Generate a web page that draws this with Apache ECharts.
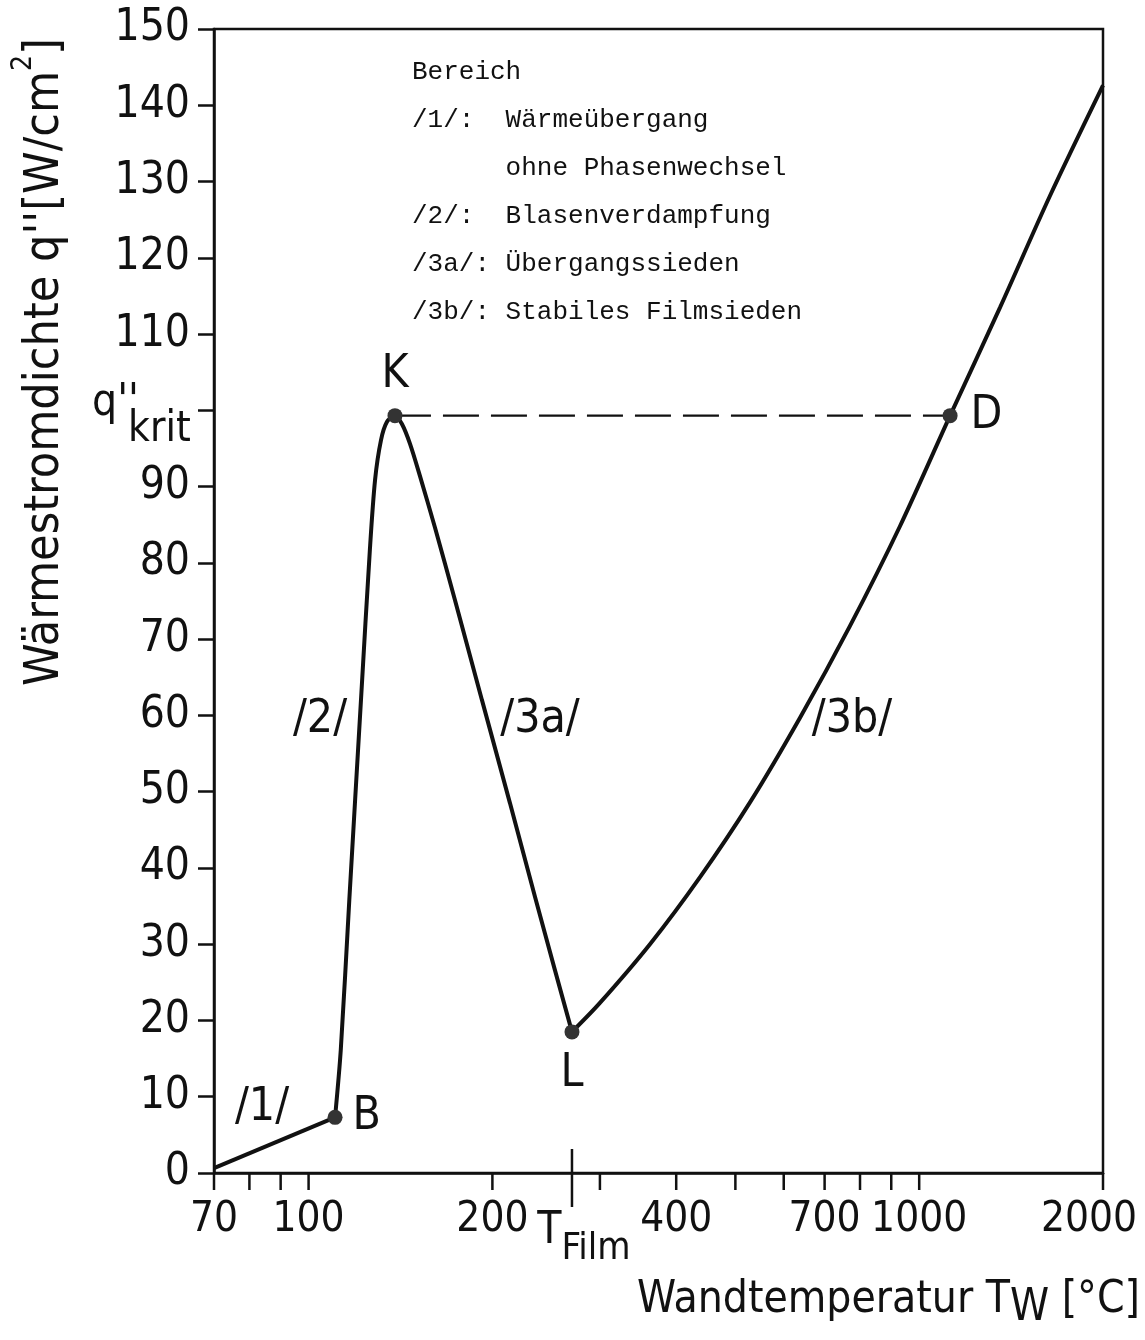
<!DOCTYPE html>
<html><head><meta charset="utf-8">
<script src="https://cdn.jsdelivr.net/npm/echarts@6/dist/echarts.min.js"></script>
<style>html,body{margin:0;padding:0;background:#fff}#c{width:1145px;height:1340px}</style>
</head><body><div id="c"></div>
<script>
// ---- data ----
const xTickValues = [70, 80, 90, 100, 200, 300, 400, 500, 600, 700, 800, 900, 1000, 2000];
const xTickLabels = [70, 100, 200, 400, 700, 1000, 2000];
const tFilm = 270;
const regionOne = [[70, 0.65], [110.5, 7.3]];
// /2/ and /3a/ : from B over K down to L
const nucleateTransition = [
  [110.5, 7.3], [112.9, 16.1], [116.6, 35.8], [121.9, 62.3], [126.0, 81.7], [128.5, 90.9],
  [131.4, 96.1], [134.4, 98.5], [138.5, 99.3], [142.2, 98.2], [146.6, 95.6], [152.3, 91.3],
  [161.1, 84.6], [173.7, 75.1], [192.3, 62.0], [213.7, 48.5], [234.9, 36.2], [253.2, 26.6],
  [270, 18.5]
];
// /3b/ : from L over D to the end
const filmBoiling = [
  [270, 18.5], [300, 22.3], [362.3, 30.0], [437.6, 38.8], [528.3, 48.6], [638, 59.7],
  [770, 71.7], [930, 84.8], [1123.6, 99.3], [1356.6, 113.5], [1637, 128.1], [2000, 142.6]
];
const keyPoints = [[110.5, 7.3], [138.5, 99.3], [270, 18.5], [1123.6, 99.3]];
const keyNames = ['B', 'K', 'L', 'D'];
const critLine = [[138.5, 99.3], [1123.6, 99.3]];
const legendText = [
  'Bereich',
  '/1/:  Wärmeübergang',
  '      ohne Phasenwechsel',
  '/2/:  Blasenverdampfung',
  '/3a/: Übergangssieden',
  '/3b/: Stabiles Filmsieden'
];
const regionLabels = ['/1/', '/2/', '/3a/', '/3b/'];

// ---- chart ----
const FF = '"DejaVu Sans Condensed","Liberation Sans Narrow",sans-serif';
const INK = '#111';
const chart = echarts.init(document.getElementById('c'), null, {renderer: 'canvas'});

const keyLabelPos = ['right', 'top', 'bottom', 'right'];
const keyLabelDist = [10, 10, 12, 13];
const regionPos = [[262, 1108], [320, 720], [540, 720], [852, 720]];

const option = {
  backgroundColor: '#fff',
  animation: false,
  grid: {left: 214, right: 42, top: 29, bottom: 167, show: true, borderColor: INK, borderWidth: 2.5},
  xAxis: {
    type: 'log', logBase: 10, min: 70, max: 2000,
    axisLine: {show: true, lineStyle: {color: INK, width: 2.5}},
    axisTick: {show: false}, axisLabel: {show: false}, splitLine: {show: false}, minorTick: {show: false}
  },
  yAxis: {
    type: 'value', min: 0, max: 150, interval: 10,
    axisLine: {show: true, lineStyle: {color: INK, width: 2.5}},
    axisTick: {show: true, length: 16, lineStyle: {color: INK, width: 2.5}},
    axisLabel: {fontFamily: FF, fontSize: 44, color: INK, margin: 24,
      formatter: v => (v === 100 ? '' : String(v))},
    splitLine: {show: false}
  },
  series: [
    {type: 'line', data: regionOne, showSymbol: false, lineStyle: {color: INK, width: 4}, z: 3},
    {type: 'line', data: nucleateTransition, smooth: 0.3, showSymbol: false, lineStyle: {color: INK, width: 4}, z: 3},
    {type: 'line', data: filmBoiling, smooth: 0.3, showSymbol: false, lineStyle: {color: INK, width: 4}, z: 3},
    {type: 'line', data: critLine, showSymbol: false, lineStyle: {color: INK, width: 2.2, type: [36, 12]}, z: 2},
    {
      type: 'scatter', z: 5, symbolSize: 15, itemStyle: {color: '#333', opacity: 1},
      data: keyPoints.map((p, i) => ({
        value: p, name: keyNames[i],
        label: {show: true, position: keyLabelPos[i], distance: keyLabelDist[i], formatter: '{b}',
          fontFamily: FF, fontSize: 46, color: INK}
      }))
    },
    {
      type: 'scatter', z: 6, clip: false, silent: true, symbol: 'rect', symbolSize: [2.5, 17], symbolOffset: [0, 8.5],
      itemStyle: {color: INK, opacity: 1},
      data: xTickValues.map(v => ({
        value: [v, 0],
        label: {show: xTickLabels.indexOf(v) >= 0, position: 'bottom', distance: 9,
          offset: [v === 2000 ? -14 : 0, 0],
          formatter: String(v), fontFamily: FF, fontSize: 42, color: INK}
      }))
    },
    {
      type: 'scatter', z: 6, clip: false, silent: true, symbol: 'rect', symbolSize: [2.5, 58], symbolOffset: [0, 5],
      itemStyle: {color: INK, opacity: 1},
      data: [{value: [tFilm, 0]}],
      label: {show: true, position: 'bottom', distance: 3, offset: [12, 0],
        formatter: '{t|T}{f|Film}',
        rich: {
          t: {fontFamily: FF, fontSize: 44, lineHeight: 44, verticalAlign: 'top', color: INK},
          f: {fontFamily: FF, fontSize: 38, lineHeight: 58, verticalAlign: 'bottom', color: INK}
        }}
    }
  ],
  graphic: [
    {
      type: 'text', x: 40, y: 362, rotation: Math.PI / 2,
      style: {
        text: "{m|Wärmestromdichte q''[W/cm}{sup|2}{m|]}",
        align: 'center', verticalAlign: 'middle',
        rich: {
          m: {fontFamily: FF, fontSize: 48, lineHeight: 48, verticalAlign: 'bottom', fill: INK},
          sup: {fontFamily: FF, fontSize: 28, lineHeight: 60, verticalAlign: 'top', fill: INK}
        }
      }
    },
    {
      type: 'text', x: 1140, y: 1305,
      style: {
        text: '{m|Wandtemperatur T}{sub|W}{m| [°C]}',
        align: 'right', verticalAlign: 'middle',
        rich: {
          m: {fontFamily: FF, fontSize: 44, lineHeight: 44, verticalAlign: 'top', fill: INK},
          sub: {fontFamily: FF, fontSize: 44, lineHeight: 52, verticalAlign: 'bottom', fill: INK}
        }
      }
    },
    {
      type: 'text', x: 412, y: 48,
      style: {text: legendText.join('\n'), font: '26px "Liberation Mono","DejaVu Sans Mono",monospace',
        lineHeight: 48, fill: INK, align: 'left', verticalAlign: 'top'}
    },
    {type: 'text', x: 92, y: 404, style: {text: "q''", font: '44px ' + FF, fill: INK, align: 'left', verticalAlign: 'middle'}},
    {type: 'text', x: 128, y: 430, style: {text: 'krit', font: '42px ' + FF, fill: INK, align: 'left', verticalAlign: 'middle'}}
  ].concat(regionLabels.map((t, i) => ({
    type: 'text', x: regionPos[i][0], y: regionPos[i][1],
    style: {text: t, font: '46px ' + FF, fill: INK, align: 'center', verticalAlign: 'middle'}
  })))
};
chart.setOption(option);
</script>
</body></html>
